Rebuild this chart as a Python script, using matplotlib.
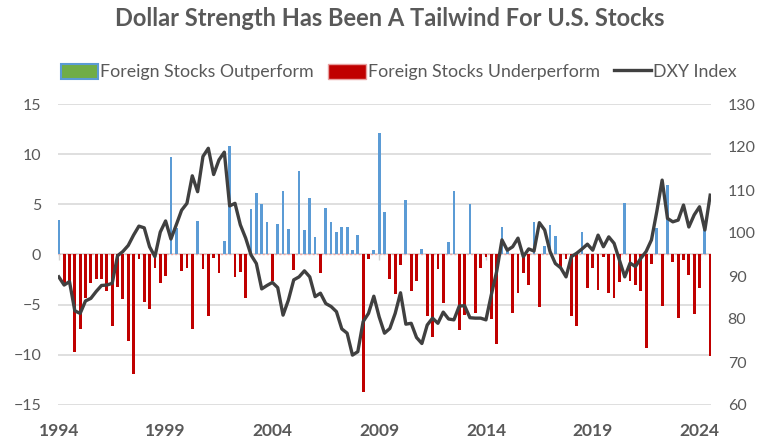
import numpy as np
import matplotlib
matplotlib.use("Agg")
import matplotlib.pyplot as plt
from matplotlib.patches import Patch
from matplotlib.lines import Line2D

plt.rcParams['font.family'] = ['Lato', 'DejaVu Sans']

# quarterly data, 1994Q1 .. 2024Q3
start_year = 1994
year_labels = ['1994', '1999', '2004', '2009', '2014', '2019', '2024']

# foreign minus US stock performance (left axis)
rel_perf = [
    3.4, -3.0, -2.6, -9.7, -7.4, -4.3, -2.8, -2.4, -2.4, -3.6,
    -7.1, -3.2, -4.4, -8.6, -11.9, -0.4, -4.7, -5.4, -1.3, -2.8,
    -2.1, 9.7, 2.6, -1.6, -1.3, -7.4, 3.3, -1.4, -6.1, -0.3,
    -1.8, 1.3, 10.8, -2.2, -1.7, -4.3, 4.5, 6.1, 5.0, 3.2,
    -2.6, 3.0, 6.3, 2.5, -1.5, 8.3, 2.4, 5.6, 1.7, -1.8,
    4.6, 3.2, 2.2, 2.7, 2.7, 0.4, 1.9, -13.7, -0.4, 0.4,
    12.1, 4.2, -2.4, -3.9, -1.0, 5.4, -3.6, -2.6, 0.5, -6.1,
    -8.2, -1.4, -4.8, 1.2, 6.3, -7.5, -6.0, 5.0, -5.8, -1.3,
    -0.2, -6.4, -8.9, 2.7, 0.3, -5.8, -3.8, -1.8, -3.0, 3.2,
    -5.2, 0.8, 2.9, 1.8, -1.3, -0.4, -6.1, -7.1, 2.2, -3.3,
    -1.3, -3.5, -0.2, -3.8, -4.3, -2.7, 5.1, -2.6, -3.0, -3.6,
    -9.3, -0.9, 2.6, -5.1, 6.9, -0.7, -6.3, -0.5, -2.0, -5.9,
    -3.3, 2.4, -10.1,
]

# DXY index (right axis)
dxy = [
    89.8, 87.9, 88.7, 81.9, 81.3, 84.2, 84.8, 86.4, 87.8, 87.9,
    88.3, 94.7, 95.7, 97.1, 99.5, 101.6, 101.2, 96.8, 94.5, 100.2,
    102.8, 98.6, 101.9, 105.3, 106.9, 113.3, 109.6, 117.8, 119.7, 113.6,
    117.0, 118.8, 106.3, 106.9, 101.9, 98.8, 94.9, 92.9, 87.0, 87.8,
    88.5, 87.3, 80.9, 84.4, 89.1, 89.8, 91.2, 89.8, 85.2, 86.0,
    83.6, 82.9, 81.7, 77.7, 76.7, 71.6, 72.4, 79.4, 81.3, 85.3,
    80.5, 76.7, 77.8, 81.3, 86.1, 78.8, 79.0, 75.7, 74.3, 78.6,
    80.2, 79.0, 81.6, 80.0, 79.8, 83.0, 83.1, 80.3, 80.2, 80.2,
    79.8, 85.6, 91.0, 98.4, 96.0, 96.8, 98.8, 94.5, 96.3, 95.8,
    102.4, 100.7, 95.7, 92.9, 91.9, 89.8, 94.5, 95.3, 96.3, 97.4,
    96.0, 99.5, 96.8, 99.1, 97.6, 93.7, 89.8, 93.0, 92.2, 94.1,
    95.7, 98.4, 105.0, 112.3, 103.4, 102.6, 103.0, 106.5, 101.4, 104.2,
    106.1, 100.7, 108.8,
]

rel = np.array(rel_perf)
x = np.arange(len(rel))
pos = np.where(rel > 0, rel, 0)
neg = np.where(rel < 0, rel, 0)

grey_txt = '#595959'
blue = '#5B9BD5'
red = '#C00000'

fig = plt.figure(figsize=(7.57, 4.48), dpi=100)
ax = fig.add_axes([58/757, 1 - 405/448, (711-58)/757, (405-104)/448])

ax.bar(x, pos, width=0.52, color=blue, zorder=2)
ax.bar(x, neg, width=0.52, color=red, zorder=2)
ax.axhline(0, color='#f0a8a8', lw=1.0, ls=(0, (1.5, 1.5)), zorder=1)

ax.set_ylim(-15, 15)
ax.set_yticks(np.arange(-15, 16, 5))
ax.set_xlim(-0.15, len(rel) - 0.85)
ax.grid(axis='y', color='#d9d9d9', lw=1.2, zorder=0)
ax.set_axisbelow(True)

tick_pos = [(int(y) - start_year) * 4 for y in year_labels]
ax.vlines(tick_pos, -0.5, 0, color='#d0d0d0', lw=1, zorder=1)
ax.set_xticks(tick_pos)
ax.set_xticklabels(year_labels, fontweight='bold', fontsize=12.5, color=grey_txt)
ax.tick_params(axis='x', length=0, pad=13)
ax.tick_params(axis='y', length=0, pad=12, labelsize=11.5, labelcolor=grey_txt)
for s in ax.spines.values():
    s.set_visible(False)

ax2 = ax.twinx()
ax2.plot(x, dxy, color='#404040', lw=2.4, zorder=3, solid_joinstyle='round')
ax2.set_ylim(60, 130)
ax2.set_yticks(np.arange(60, 131, 10))
ax2.tick_params(axis='y', length=0, pad=12, labelsize=11.5, labelcolor=grey_txt)
for s in ax2.spines.values():
    s.set_visible(False)

fig.text(0.515, 1 - 19/448, 'Dollar Strength Has Been A Tailwind For U.S. Stocks',
         ha='center', va='center', fontsize=17, fontweight='bold', color=grey_txt)

handles = [
    Patch(facecolor='#70AD47', edgecolor=blue, linewidth=1.5),
    Patch(facecolor=red, edgecolor='#e8a0a0', linewidth=1.0),
    Line2D([0], [0], color='#404040', lw=2.4),
]
labels = ['Foreign Stocks Outperform', 'Foreign Stocks Underperform', 'DXY Index']
fig.legend(handles, labels, loc='center', bbox_to_anchor=(0.527, 1 - 72/448),
           ncol=3, frameon=False, fontsize=12.8, labelcolor=grey_txt,
           handlelength=2.1, handleheight=0.95, handletextpad=0.12, columnspacing=0.8)

fig.savefig('out.png', dpi=100)
